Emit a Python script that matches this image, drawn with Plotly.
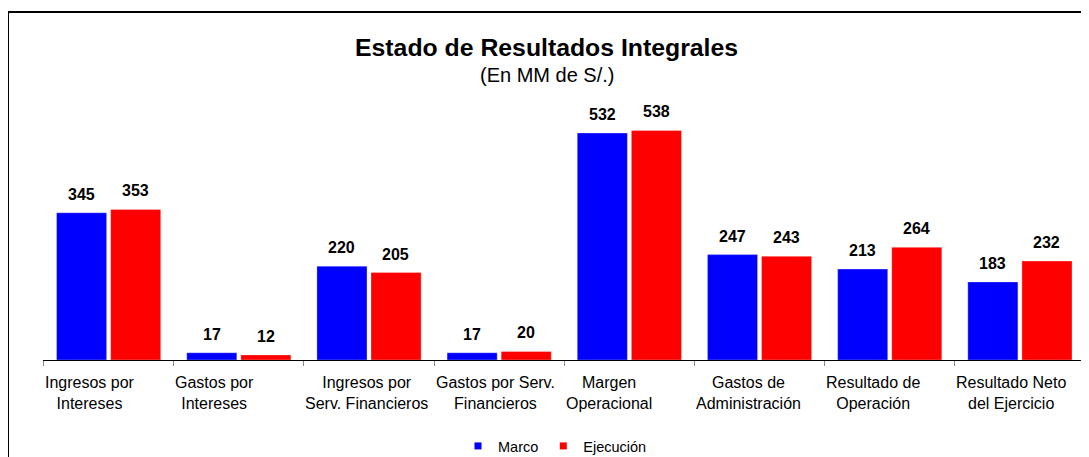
import plotly.graph_objects as go

categories = ["Ingresos por<br>Intereses", "Gastos por<br>Intereses", "Ingresos por<br>Serv. Financieros",
              "Gastos por Serv.<br>Financieros", "Margen<br>Operacional", "Gastos de<br>Administración",
              "Resultado de<br>Operación", "Resultado Neto<br>del Ejercicio"]
marco = [345, 17, 220, 17, 532, 247, 213, 183]
ejecucion = [353, 12, 205, 20, 538, 243, 264, 232]
series_names = ["Marco", "Ejecución"]
series_colors = ["#0000FF", "#FF0000"]

FONT = "Liberation Sans, Arial, sans-serif"

# plot area in screen pixels (page has an 8px body margin)
AX_L, AX_R, AX_B, AX_T = 43, 1085, 360, 104
PW, PH = AX_R - AX_L, AX_B - AX_T
CAT_W = PW / len(categories)


def px(x):
    return (x - AX_L) / PW


def py(y):
    return (AX_B - y) / PH


fig = go.Figure()
for name, vals, col in zip(series_names, [marco, ejecucion], series_colors):
    fig.add_trace(go.Bar(name=name, x=categories, y=vals, showlegend=False,
                         marker=dict(color=col, line=dict(color="rgba(255,255,255,0.6)", width=0.5))))
# legend entries with small square markers
for name, col in zip(series_names, series_colors):
    fig.add_trace(go.Scatter(name=name, x=[None], y=[None], mode="markers",
                             marker=dict(symbol="square", size=7, color=col), showlegend=True))

annotations = []
for vals, shift in [(marco, -27), (ejecucion, 27)]:
    for c, v in zip(categories, vals):
        annotations.append(dict(x=c, y=v, xref="x", yref="y", text=f"<b>{v}</b>", showarrow=False,
                                xshift=shift, yshift=8, yanchor="bottom", xanchor="center",
                                font=dict(family=FONT, size=16, color="black")))
# category labels: blocks left-aligned at the category boundary, lines centred within
for c in categories:
    annotations.append(dict(x=c, y=0, xref="x", yref="paper", text=c, showarrow=False,
                            xshift=-CAT_W / 2 - 0.5, yshift=-12, xanchor="left", yanchor="top", align="center",
                            font=dict(family=FONT, size=16, color="black")))
annotations += [
    dict(text="<b>Estado de Resultados Integrales</b>", xref="paper", yref="paper",
         x=px(546.5), y=py(47), xanchor="center", yanchor="middle", showarrow=False,
         font=dict(family=FONT, size=24.8, color="black")),
    dict(text="(En MM de S/.)", xref="paper", yref="paper",
         x=px(546.5), y=py(75), xanchor="center", yanchor="middle", showarrow=False,
         font=dict(family=FONT, size=20, color="black")),
]

fig.update_layout(
    width=1089, height=457,
    margin=dict(l=AX_L - 8, r=1089 - (AX_R - 8), t=AX_T - 8, b=457 - (AX_B - 8), autoexpand=False),
    paper_bgcolor="white", plot_bgcolor="white",
    font=dict(family=FONT, size=16, color="black"),
    barmode="group", bargap=0.169, bargroupgap=0.074,
    showlegend=True,
    legend=dict(orientation="h", x=px(458), xanchor="left", y=py(446), yanchor="middle",
                font=dict(family=FONT, size=14.5, color="black"), itemwidth=30, tracegroupgap=0),
    annotations=annotations,
    shapes=[dict(type="rect", xref="paper", yref="paper", x0=px(8), x1=1.2,
                 y0=-1, y1=py(12), line=dict(color="black", width=2), layer="below")],
)
fig.update_xaxes(showline=True, linecolor="black", linewidth=1.2, ticks="outside", tickson="boundaries",
                 ticklen=5, tickcolor="#888888", showticklabels=False)
fig.update_yaxes(range=[0, 600], visible=False, showgrid=False)

fig.write_html("out.html")
